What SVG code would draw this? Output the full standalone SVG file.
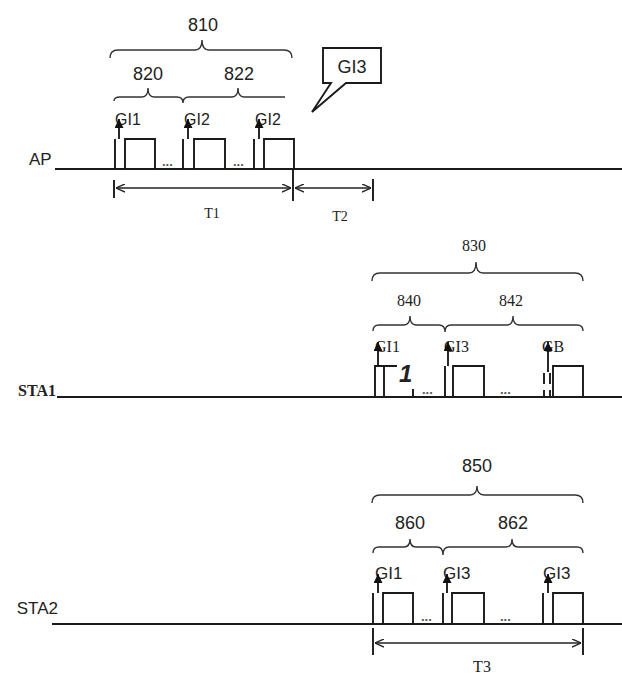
<svg xmlns="http://www.w3.org/2000/svg" width="622" height="674" viewBox="0 0 622 674">
<style>
.bg{fill:#fff}
.ln{stroke:#1a1a1a;stroke-width:1.9;fill:none}
.base{stroke:#1a1a1a;stroke-width:2;fill:none}
.br{stroke:#333;stroke-width:1.4;fill:none}
.sans{font-family:"Liberation Sans",Arial,sans-serif;fill:#222}
.serif{font-family:"Liberation Serif","Times New Roman",serif;fill:#222}
.dots{font-family:"Liberation Sans",Arial,sans-serif;fill:#555;font-size:13px;font-weight:bold}
.arr{stroke:#111;stroke-width:1.8;fill:none;marker-end:url(#ah)}
.dim{stroke:#222;stroke-width:1.6;fill:none;marker-start:url(#oa);marker-end:url(#oa)}
</style>
<defs>
<marker id="ah" viewBox="0 0 10 10" refX="10" refY="5" markerWidth="10" markerHeight="9" orient="auto" markerUnits="userSpaceOnUse"><path d="M0,0 L10,5 L0,10 z" fill="#111"/></marker>
<marker id="oa" viewBox="0 0 10 10" refX="10" refY="5" markerWidth="9" markerHeight="9" orient="auto-start-reverse" markerUnits="userSpaceOnUse"><path d="M0,0.5 L10,5 L0,9.5" fill="none" stroke="#222" stroke-width="1.5"/></marker>
</defs>
<rect class="bg" width="622" height="674"/>

<!-- AP -->
<g id="ap">
<text class="sans" x="29" y="165" font-size="17">AP</text>
<line class="base" x1="55" y1="169" x2="622" y2="169"/>
<path class="ln" d="M115,169 V139 M125,169 V139 H155 V169"/>
<path class="ln" d="M183,169 V139 M194,169 V139 H225 V169"/>
<path class="ln" d="M254,169 V139 M264,169 V139 H294 V169"/>
<text class="dots" x="162" y="166">...</text>
<text class="dots" x="233" y="166">...</text>
<text class="sans" x="115" y="125" font-size="16">GI1</text>
<text class="sans" x="184" y="125" font-size="16">GI2</text>
<text class="sans" x="255" y="125" font-size="16">GI2</text>
<path class="br" d="M114,101 Q114,97 120,97 L142,97 Q148,97 148,88 Q148,97 154,97 L177,97 Q183,97 183,103 Q183,97 189,97 L232,97 Q238,97 238,88 Q238,97 244,97 L285,97"/>
<text class="sans" x="148" y="80" font-size="18" text-anchor="middle">820</text>
<text class="sans" x="239" y="80" font-size="18" text-anchor="middle">822</text>
<path class="br" d="M110,58 Q110,50 118,50 L195,50 Q202,50 202,40 Q202,50 209,50 L284,50 Q292,50 292,58"/>
<text class="sans" x="203" y="31" font-size="18" text-anchor="middle">810</text>
<text class="serif" x="212" y="218" font-size="14" text-anchor="middle">T1</text>
<text class="serif" x="340" y="221" font-size="14" text-anchor="middle">T2</text>
</g>

<g id="callout-gi3">
<path class="ln" stroke-width="1.5" d="M323,48 H381 V83 H346 L312,112 L331,83 H323 Z" fill="#fff"/>
<text class="sans" x="352" y="73" font-size="18" text-anchor="middle">GI3</text>
</g>

<!-- STA1 -->
<g id="sta1">
<text class="serif" x="56" y="396" font-size="16" font-weight="bold" text-anchor="end">STA1</text>
<line class="base" x1="57" y1="397" x2="622" y2="397"/>
<path class="ln" d="M375,397 V366 H397 M384,397 V366 M413,389 V397"/>
<text class="sans" x="399" y="382" font-size="24" font-style="italic" font-weight="bold">1</text>
<path class="ln" d="M445,397 V366 M453,397 V366 H484 V397"/>
<path class="ln" d="M544,373 V384 M544,390 V397 M550,373 V384 M550,390 V397 M553,397 V366 H583 V397"/>
<text class="dots" x="422" y="394">...</text>
<text class="dots" x="500" y="394">...</text>
<text class="serif" x="375" y="352" font-size="16">GI1</text>
<text class="serif" x="444" y="352" font-size="16">GI3</text>
<text class="serif" x="542" y="352" font-size="16">GB</text>
<path class="br" d="M373,331 Q373,325 379,325 L404,325 Q410,325 410,316 Q410,325 416,325 L439,325 Q445,325 445,332 Q445,325 451,325 L507,325 Q513,325 513,316 Q513,325 519,325 L577,325 Q583,325 583,331"/>
<text class="serif" x="409" y="306" font-size="16" text-anchor="middle">840</text>
<text class="serif" x="511" y="306" font-size="16" text-anchor="middle">842</text>
<path class="br" d="M372,281 Q372,273 380,273 L469,273 Q476,273 476,262 Q476,273 483,273 L575,273 Q583,273 583,281"/>
<text class="serif" x="474" y="251" font-size="16" text-anchor="middle">830</text>
</g>

<!-- STA2 -->
<g id="sta2">
<text class="sans" x="58" y="614" font-size="17" text-anchor="end">STA2</text>
<line class="base" x1="52" y1="624" x2="622" y2="624"/>
<path class="ln" d="M373,624 V593 M383,624 V593 H413 V624"/>
<path class="ln" d="M443,624 V593 M452,624 V593 H484 V624"/>
<path class="ln" d="M543,624 V593 M553,624 V593 H583 V624"/>
<text class="dots" x="421" y="621">...</text>
<text class="dots" x="500" y="621">...</text>
<text class="sans" x="375" y="579" font-size="17">GI1</text>
<text class="sans" x="443" y="579" font-size="17">GI3</text>
<text class="sans" x="543" y="579" font-size="17">GI3</text>
<path class="br" d="M373,553 Q373,547 379,547 L404,547 Q410,547 410,539 Q410,547 416,547 L437,547 Q443,547 443,555 Q443,547 449,547 L506,547 Q512,547 512,539 Q512,547 518,547 L577,547 Q583,547 583,553"/>
<text class="sans" x="410" y="529" font-size="18" text-anchor="middle">860</text>
<text class="sans" x="513" y="529" font-size="18" text-anchor="middle">862</text>
<path class="br" d="M372,503 Q372,495 380,495 L470,495 Q477,495 477,486 Q477,495 484,495 L575,495 Q583,495 583,503"/>
<text class="sans" x="477" y="472" font-size="18" text-anchor="middle">850</text>
<text class="serif" x="482" y="672" font-size="16" text-anchor="middle">T3</text>
</g>

<!-- connectors -->
<g id="connectors">
<line class="arr" x1="119" y1="139" x2="119" y2="119"/>
<line class="arr" x1="188" y1="139" x2="188" y2="119"/>
<line class="arr" x1="259" y1="139" x2="259" y2="119"/>
<line class="arr" x1="378" y1="366" x2="378" y2="342"/>
<line class="arr" x1="448" y1="366" x2="448" y2="342"/>
<line class="arr" x1="548" y1="372" x2="548" y2="342"/>
<line class="arr" x1="378" y1="593" x2="378" y2="574"/>
<line class="arr" x1="447" y1="593" x2="447" y2="574"/>
<line class="arr" x1="548" y1="593" x2="548" y2="574"/>
<path class="ln" d="M114,180 V198 M293,169 V201 M373,179 V201"/>
<line class="dim" x1="116" y1="188" x2="291" y2="188"/>
<line class="dim" x1="295" y1="188" x2="371" y2="188"/>
<path class="ln" d="M373,628 V655 M583,628 V655"/>
<line class="dim" x1="375" y1="643" x2="581" y2="643"/>
</g>
</svg>
